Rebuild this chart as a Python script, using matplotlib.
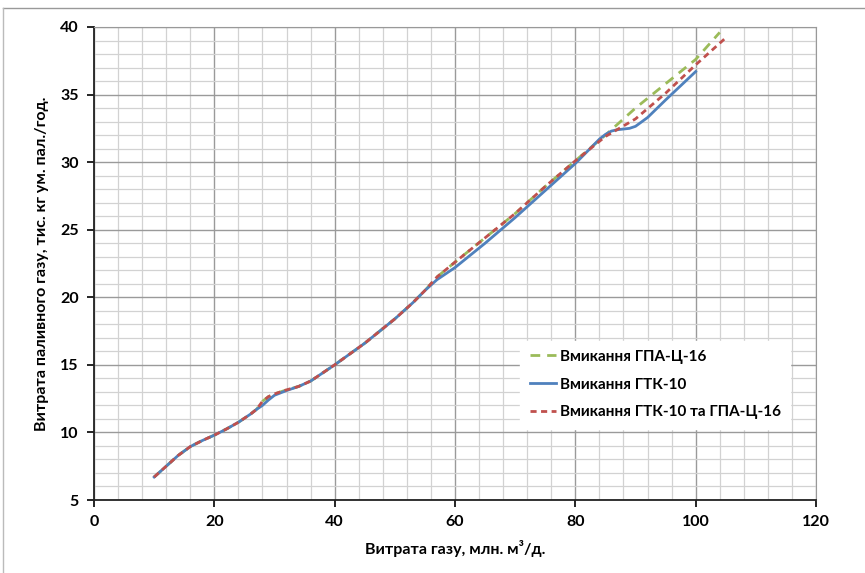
import numpy as np
import matplotlib.pyplot as plt
from matplotlib.lines import Line2D

plt.rcParams['font.family'] = ['Lato', 'DejaVu Sans']

# common start of all three curves
x_common = [10, 12, 14, 16, 18, 20, 22, 24, 26, 27]
y_common = [6.7, 7.5, 8.3, 8.95, 9.4, 9.8, 10.25, 10.75, 11.35, 11.7]

# ГТК-10 (blue)
x_gtk = x_common + [28, 29, 30, 32, 34, 36, 40, 45, 50, 53, 55, 57, 60, 65, 70, 75, 80, 82, 84, 85, 86, 87, 88, 89, 90, 92, 95, 100]
y_gtk = y_common + [12.0, 12.4, 12.75, 13.1, 13.4, 13.8, 15.0, 16.6, 18.4, 19.6, 20.5, 21.3, 22.2, 24.0, 25.9, 27.9, 29.9, 30.8, 31.7, 32.05, 32.3, 32.4, 32.45, 32.5, 32.65, 33.3, 34.6, 36.7]

# ГТК-10 та ГПА-Ц-16 (red)
x_both = x_common + [28, 29, 30, 32, 34, 36, 40, 45, 50, 53, 55, 57, 60, 65, 70, 75, 80, 85, 90, 95, 100, 105]
y_both = y_common + [12.3, 12.65, 12.85, 13.15, 13.4, 13.8, 15.0, 16.6, 18.4, 19.6, 20.5, 21.5, 22.6, 24.4, 26.2, 28.2, 30.1, 31.9, 33.2, 35.1, 37.2, 39.2]

# ГПА-Ц-16 (green)
x_gpa = x_both[:-5] + [85, 90, 95, 100, 104]
y_gpa = y_both[:-5] + [32.0, 34.0, 35.8, 37.6, 39.6]

green_dash = (3.5, 2.5)
red_dash = (2.2, 1.6)

fig = plt.figure(figsize=(8.65, 5.73), dpi=100)
ax = fig.add_axes([94 / 865, 1 - 500 / 573, (816 - 94) / 865, (500 - 27) / 573])

ax.plot(x_gpa, y_gpa, color='#9BBB59', lw=2, dashes=green_dash, zorder=3)
ax.plot(x_gtk, y_gtk, color='#4F81BD', lw=2, zorder=4)
ax.plot(x_both, y_both, color='#C0504D', lw=2, dashes=red_dash, zorder=5)

ax.set_xlim(0, 120)
ax.set_ylim(5, 40)
ax.set_xticks(np.arange(0, 121, 20))
ax.set_yticks(np.arange(5, 41, 5))
ax.set_xticks(np.arange(0, 121, 4), minor=True)
ax.set_yticks(np.arange(5, 41, 1), minor=True)
ax.grid(which='major', color='#9a9a9a', lw=1)
ax.grid(which='minor', color='#d2d2d2', lw=0.9)
ax.set_axisbelow(True)

for side in ['top', 'right']:
    ax.spines[side].set_color('#999999')
for side in ['left', 'bottom']:
    ax.spines[side].set_color('#222222')
    ax.spines[side].set_linewidth(1.3)

ax.tick_params(which='major', direction='out', length=5, width=1.2, labelsize=11.5, pad=6)
ax.tick_params(which='minor', length=0)
for lab in ax.get_xticklabels() + ax.get_yticklabels():
    lab.set_fontweight('bold')

ax.set_xlabel('Витрата газу, млн. м³/д.', fontsize=11.5, fontweight='bold', labelpad=8)
ax.set_ylabel('Витрата паливного газу, тис. кг ум. пал./год.', fontsize=11.5, fontweight='bold', labelpad=8)

handles = [
    Line2D([], [], color='#9BBB59', lw=2, dashes=green_dash),
    Line2D([], [], color='#4F81BD', lw=2),
    Line2D([], [], color='#C0504D', lw=2, dashes=red_dash),
]
labels = ['Вмикання ГПА-Ц-16', 'Вмикання ГТК-10', 'Вмикання ГТК-10 та ГПА-Ц-16']
leg = ax.legend(handles, labels, loc='lower right', bbox_to_anchor=(0.975, 0.135),
                frameon=True, fancybox=False, framealpha=1, edgecolor='white',
                prop={'weight': 'bold', 'size': 11}, handlelength=1.7,
                handletextpad=0.3, labelspacing=0.9, borderpad=0.6)

# outer chart border (top and left)
fig.add_artist(Line2D([3 / 865, 1], [1 - 8 / 573, 1 - 8 / 573], color='#999999', lw=1))
fig.add_artist(Line2D([3 / 865, 3 / 865], [0, 1 - 8 / 573], color='#bbbbbb', lw=1))

fig.savefig('out.png', dpi=100)
